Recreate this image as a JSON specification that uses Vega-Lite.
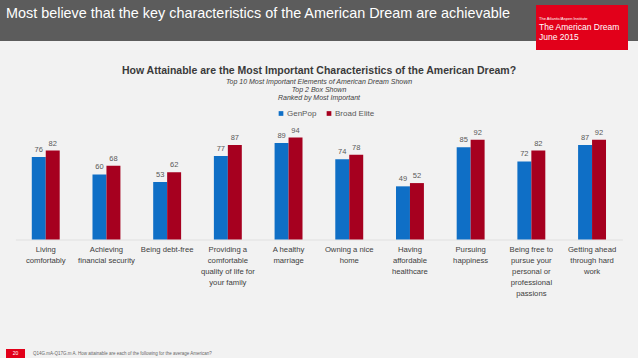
{
  "$schema": "https://vega.github.io/schema/vega-lite/v6.json",
  "background": "#f2f2f2",
  "padding": 0,
  "spacing": 16,
  "resolve": {"legend": {"color": "independent"}},
  "config": {
    "font": "Liberation Sans",
    "view": {"stroke": null},
    "title": {"fontWeight": "normal"}
  },
  "vconcat": [
    {
      "spacing": 0,
      "hconcat": [
        {
          "width": 536,
          "height": 41,
          "view": {"fill": "#5c5c5c", "stroke": null},
          "data": {"values": []},
          "mark": "rect",
          "encoding": {},
          "title": {
            "text": "Most believe that the key characteristics of the American Dream are achievable",
            "anchor": "start",
            "offset": -21.3,
            "dx": 6,
            "color": "#ffffff",
            "fontSize": 14.4,
            "font": "Liberation Sans",
            "fontWeight": "normal"
          }
        },
        {
          "spacing": 0,
          "vconcat": [
            {
              "width": 92,
              "height": 5,
              "view": {"fill": "#5c5c5c", "stroke": null},
              "data": {"values": []},
              "mark": "rect",
              "encoding": {}
            },
            {
              "width": 92,
              "height": 45,
              "view": {"fill": "#e2001a", "stroke": null},
              "data": {"values": []},
              "mark": "rect",
              "encoding": {},
              "title": {
                "text": "The Atlantic/Aspen Institute",
                "subtitle": ["The American Dream", "June 2015"],
                "anchor": "start",
                "offset": -36.5,
                "dx": 3,
                "color": "#ffffff",
                "fontSize": 4,
                "fontWeight": "normal",
                "subtitleColor": "#ffffff",
                "subtitleFontSize": 8.5,
                "subtitleLineHeight": 10.5,
                "subtitlePadding": 2
              }
            }
          ]
        },
        {
          "width": 10,
          "height": 41,
          "view": {"fill": "#5c5c5c", "stroke": null},
          "data": {"values": []},
          "mark": "rect",
          "encoding": {}
        }
      ]
    },
    {
      "width": 638,
      "height": 108.5,
      "data": {
        "values": [
          {"item": "Living|comfortably", "series": "GenPop", "value": 76},
          {"item": "Living|comfortably", "series": "Broad Elite", "value": 82},
          {"item": "Achieving|financial security", "series": "GenPop", "value": 60},
          {"item": "Achieving|financial security", "series": "Broad Elite", "value": 68},
          {"item": "Being debt-free", "series": "GenPop", "value": 53},
          {"item": "Being debt-free", "series": "Broad Elite", "value": 62},
          {"item": "Providing a|comfortable|quality of life for|your family", "series": "GenPop", "value": 77},
          {"item": "Providing a|comfortable|quality of life for|your family", "series": "Broad Elite", "value": 87},
          {"item": "A healthy|marriage", "series": "GenPop", "value": 89},
          {"item": "A healthy|marriage", "series": "Broad Elite", "value": 94},
          {"item": "Owning a nice|home", "series": "GenPop", "value": 74},
          {"item": "Owning a nice|home", "series": "Broad Elite", "value": 78},
          {"item": "Having|affordable|healthcare", "series": "GenPop", "value": 49},
          {"item": "Having|affordable|healthcare", "series": "Broad Elite", "value": 52},
          {"item": "Pursuing|happiness", "series": "GenPop", "value": 85},
          {"item": "Pursuing|happiness", "series": "Broad Elite", "value": 92},
          {"item": "Being free to|pursue your|personal or|professional|passions", "series": "GenPop", "value": 72},
          {"item": "Being free to|pursue your|personal or|professional|passions", "series": "Broad Elite", "value": 82},
          {"item": "Getting ahead|through hard|work", "series": "GenPop", "value": 87},
          {"item": "Getting ahead|through hard|work", "series": "Broad Elite", "value": 92}
        ]
      },
      "title": {
        "text": "How Attainable are the Most Important Characteristics of the American Dream?",
        "subtitle": ["Top 10 Most Important Elements of American Dream Shown", "Top 2 Box Shown", "Ranked by Most Important"],
        "anchor": "middle",
        "fontSize": 10.5,
        "fontWeight": "bold",
        "color": "#3a3a3a",
        "subtitleFontSize": 7,
        "subtitleFontStyle": "italic",
        "subtitleColor": "#404040",
        "subtitleLineHeight": 8,
        "subtitlePadding": 1.5,
        "offset": 8.5
      },
      "encoding": {
        "x": {
          "field": "item",
          "type": "nominal",
          "sort": null,
          "scale": {"range": [15.4, 622.4], "paddingInner": 0.54, "paddingOuter": 0.27},
          "axis": {
            "title": null,
            "labelExpr": "split(datum.label, '|')",
            "labelAngle": 0,
            "labelFontSize": 7.7,
            "labelColor": "#404040",
            "labelLineHeight": 11,
            "labelPadding": 5.5,
            "ticks": false,
            "domainColor": "#e0e0e0",
            "labelLimit": 0,
            "minExtent": 93,
            "maxExtent": 93
          }
        },
        "xOffset": {"field": "series", "type": "nominal", "sort": ["GenPop", "Broad Elite"]},
        "y": {
          "field": "value",
          "type": "quantitative",
          "scale": {"domain": [0, 100]},
          "axis": null
        }
      },
      "layer": [
        {
          "mark": {"type": "bar"},
          "encoding": {
            "color": {
              "field": "series",
              "type": "nominal",
              "sort": ["GenPop", "Broad Elite"],
              "scale": {"domain": ["GenPop", "Broad Elite"], "range": ["#0f6fc6", "#a6001f"]},
              "legend": {
                "title": null,
                "orient": "none",
                "direction": "horizontal",
                "legendX": 277,
                "legendY": -21.5,
                "symbolType": "square",
                "symbolSize": 22,
                "symbolStrokeWidth": 0,
                "labelFontSize": 8,
                "labelColor": "#595959",
                "labelOffset": 2,
                "columnPadding": 8
              }
            }
          }
        },
        {
          "mark": {"type": "text", "baseline": "bottom", "dy": -3, "fontSize": 7.5, "color": "#595959"},
          "encoding": {"text": {"field": "value", "type": "quantitative"}}
        }
      ]
    },
    {
      "spacing": 0,
      "hconcat": [
        {"width": 6, "height": 9, "data": {"values": []}, "mark": "rect", "encoding": {}},
        {
          "width": 19,
          "height": 9,
          "view": {"fill": "#e2001a", "stroke": null},
          "data": {"values": []},
          "mark": "rect",
          "encoding": {},
          "title": {"text": "20", "anchor": "middle", "offset": -7, "color": "#ffffff", "fontSize": 5, "fontWeight": "normal"}
        },
        {
          "width": 400,
          "height": 9,
          "data": {"values": []},
          "mark": "rect",
          "encoding": {},
          "title": {
            "text": "Q14G.mA-Q17G.m A. How attainable are each of the following for the average American?",
            "anchor": "start",
            "offset": -6,
            "dx": 8,
            "color": "#666666",
            "fontSize": 4.5,
            "fontWeight": "normal"
          }
        }
      ]
    }
  ]
}
